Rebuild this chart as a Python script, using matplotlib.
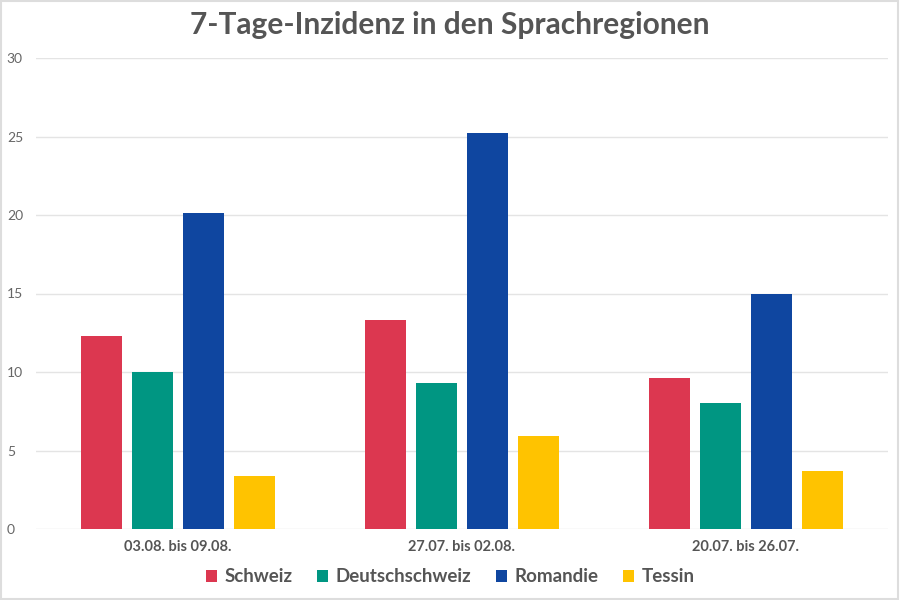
import matplotlib
matplotlib.use("Agg")
import matplotlib.pyplot as plt
from matplotlib import font_manager as fm
import numpy as np

# data
weeks = ["03.08. bis 09.08.", "27.07. bis 02.08.", "20.07. bis 26.07."]
regions = ["Schweiz", "Deutschschweiz", "Romandie", "Tessin"]
schweiz = [12.3, 13.3, 9.6]
deutschschweiz = [10.0, 9.3, 8.0]
romandie = [20.1, 25.2, 15.0]
tessin = [3.4, 5.9, 3.7]
colors = ["#dc3750", "#009682", "#0f46a0", "#ffc300"]


def lato(fname, size):
    for f in fm.fontManager.ttflist:
        if f.fname.split("/")[-1] == fname:
            return fm.FontProperties(fname=f.fname, size=size)
    return fm.FontProperties(family="DejaVu Sans", size=size)


fig = plt.figure(figsize=(9, 6), dpi=100)
ax = fig.add_axes([36 / 900, 1 - 529 / 600, (888 - 36) / 900, (529 - 58) / 600])

x = np.arange(len(weeks))
width = 0.145
step = 0.18
series = [schweiz, deutschschweiz, romandie, tessin]
for i, (name, vals) in enumerate(zip(regions, series)):
    ax.bar(x + (i - 1.5) * step, vals, width, color=colors[i], label=name, zorder=3)

ax.set_xlim(-0.5, len(weeks) - 0.5)
ax.set_ylim(0, 30)
ax.set_yticks(range(0, 31, 5))
ax.set_xticks(x)
ax.set_xticklabels(weeks)
for lab in ax.get_xticklabels():
    lab.set_fontproperties(lato("Lato-Bold.ttf", 10.5))
    lab.set_color("#555555")
ax.grid(axis="y", color="#e4e4e4", linewidth=1, zorder=0)
for s in ax.spines.values():
    s.set_visible(False)
ax.tick_params(axis="both", length=0)
ax.tick_params(axis="x", pad=8)
for lab in ax.get_yticklabels():
    lab.set_horizontalalignment("left")
    lab.set_fontproperties(lato("Lato-Regular.ttf", 10))
    lab.set_color("#666666")
ax.tick_params(axis="y", pad=21)

fig.text(0.5, 1 - 25 / 600, "7-Tage-Inzidenz in den Sprachregionen", ha="center", va="center",
         fontproperties=lato("Lato-Bold.ttf", 21.5), color="#555555")

leg = fig.legend(loc="center", bbox_to_anchor=(0.5, 1 - 577 / 600), ncol=4, frameon=False,
                 prop=lato("Lato-Bold.ttf", 13.5), handlelength=0.6, handleheight=0.6,
                 handletextpad=0.4, columnspacing=1.3)
for t in leg.get_texts():
    t.set_color("#555555")

# light frame round the picture
fig.patches.append(plt.Rectangle((0.001, 0.001), 0.997, 0.997, transform=fig.transFigure,
                                 fill=False, edgecolor="#dddddd", linewidth=1.5))

fig.savefig("out.png", dpi=100)
